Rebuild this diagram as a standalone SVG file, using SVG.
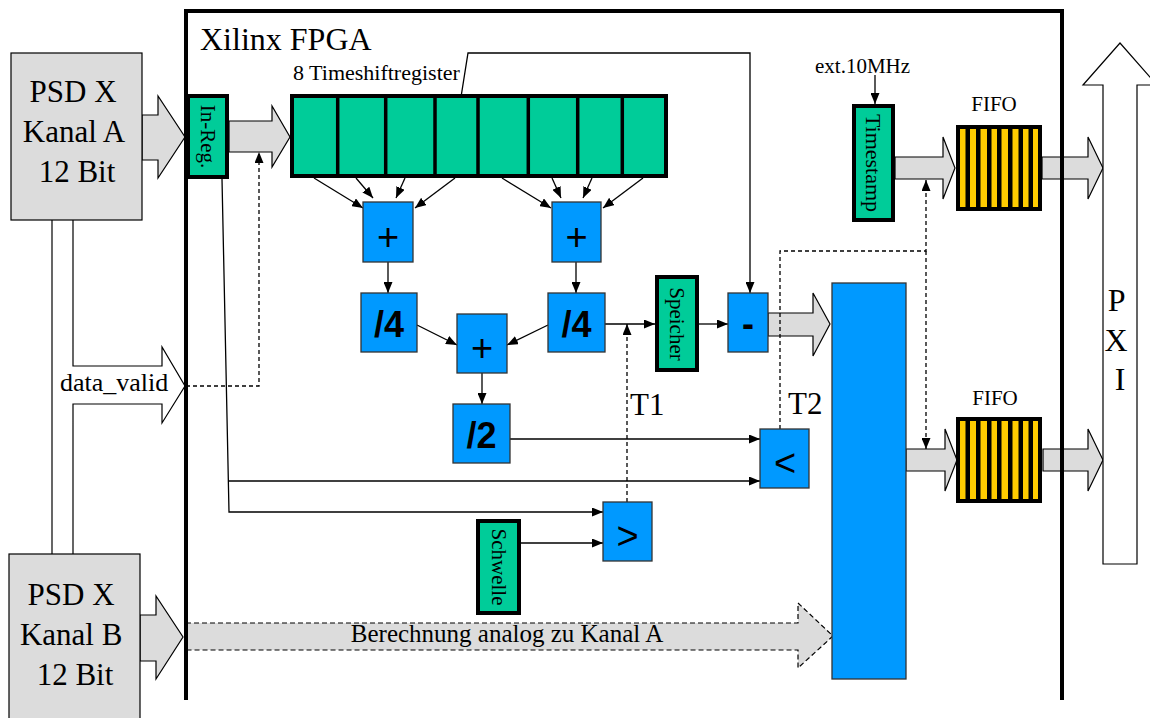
<svg xmlns="http://www.w3.org/2000/svg" width="1150" height="718" viewBox="0 0 1150 718">
  <style>
    .serif { font-family: "Liberation Serif", "Times New Roman", serif; fill: #000; }
    .sans { font-family: "Liberation Sans", Arial, sans-serif; fill: #000; }
    .bus { fill: #dcdcdc; stroke: #000; stroke-width: 1.2; stroke-linejoin: miter; }
    .outline { fill: none; stroke: #000; stroke-width: 1.2; }
    .wire { fill: none; stroke: #000; stroke-width: 1.3; }
    .dash { fill: none; stroke: #000; stroke-width: 1.3; stroke-dasharray: 4 3; }
    .src { fill: #dcdcdc; stroke: #000; stroke-width: 1.2; }
    .op { fill: #0099ff; stroke: #333; stroke-width: 1.3; }
    .reg { fill: #00cc99; stroke: #000; stroke-width: 4; }
    .fifo { fill: #ffcc00; stroke: #000; stroke-width: 4; }
    .bar { fill: #000; }
  </style>
  <defs>
    <marker id="head" viewBox="0 0 11 9" refX="11" refY="4.5" markerWidth="11" markerHeight="9" markerUnits="userSpaceOnUse" orient="auto">
      <path d="M0,0 L11,4.5 L0,9 z" fill="#000"/>
    </marker>
    <g id="stripes">
      <rect class="bar" x="965.5" width="4.5" height="82"/>
      <rect class="bar" x="976" width="4.5" height="82"/>
      <rect class="bar" x="987" width="4.5" height="82"/>
      <rect class="bar" x="997" width="4.5" height="82"/>
      <rect class="bar" x="1008" width="4.5" height="82"/>
      <rect class="bar" x="1018.5" width="4.5" height="82"/>
      <rect class="bar" x="1028.5" width="4.5" height="82"/>
    </g>
  </defs>

  <rect width="1150" height="718" fill="#fff"/>

  <g id="connectors">
    <!-- wide bus arrows -->
    <g id="buses">
      <path class="bus" d="M142,115 H158 V96 L185,137 L158,178 V160 H142 Z"/>
      <path class="bus" d="M140,615 H156 V596 L183,637 L156,679 V661 H140 Z"/>
      <path class="bus" d="M229,121 H272 V106 L290,137 L272,167 V152 H229 Z"/>
      <path class="bus" d="M768,313 H813 V293 L830,324 L813,356 V336 H768 Z"/>
      <path class="bus" d="M895,157 H943 V137 L955,168 L943,199 V179 H895 Z"/>
      <path class="bus" d="M1042,157 H1088 V137 L1103,168 L1088,199 V179 H1042 Z"/>
      <path class="bus" d="M906,449 H945 V429 L957,460 L945,491 V471 H906 Z"/>
      <path class="bus" d="M1043,449 H1088 V429 L1103,460 L1088,491 V471 H1043 Z"/>
      <path class="bus" d="M186,623 H798 V603 L833,636 L798,668 V650 H186 Z" stroke-dasharray="5 3"/>
      <!-- data_valid branch between the two channels -->
      <path class="outline" d="M52,220 V554"/>
      <path class="outline" d="M73,220 V366 H162 V347 L185,386 L162,423 V404 H73 V554"/>
      <!-- PXI bus -->
      <path d="M1103,564 V85 H1083 L1120,43 L1157,85 H1137 V564 Z" fill="#fff" stroke="#000" stroke-width="1.2"/>
    </g>

    <!-- signal wires -->
    <g id="wires">
      <path class="wire" d="M314,178 L363,208" marker-end="url(#head)"/>
      <path class="wire" d="M356,178 L373,198" marker-end="url(#head)"/>
      <path class="wire" d="M405,178 L396,198" marker-end="url(#head)"/>
      <path class="wire" d="M455,178 L415,208" marker-end="url(#head)"/>
      <path class="wire" d="M502,178 L551,208" marker-end="url(#head)"/>
      <path class="wire" d="M552,178 L561,198" marker-end="url(#head)"/>
      <path class="wire" d="M592,178 L583,198" marker-end="url(#head)"/>
      <path class="wire" d="M643,178 L603,208" marker-end="url(#head)"/>

      <path class="wire" d="M388,262 V293" marker-end="url(#head)"/>
      <path class="wire" d="M576,262 V293" marker-end="url(#head)"/>
      <path class="wire" d="M417,325 L457,345" marker-end="url(#head)"/>
      <path class="wire" d="M548,325 L507,345" marker-end="url(#head)"/>
      <path class="wire" d="M482,373 V404" marker-end="url(#head)"/>
      <path class="wire" d="M510,439 H760" marker-end="url(#head)"/>

      <path class="wire" d="M605,324 H655" marker-end="url(#head)"/>
      <path class="wire" d="M699,324 H728" marker-end="url(#head)"/>
      <path class="wire" d="M458,116 L468,53 H750 V293" marker-end="url(#head)"/>

      <path class="wire" d="M222,179 L229,512 H603" marker-end="url(#head)"/>
      <path class="wire" d="M228,481 H760" marker-end="url(#head)"/>
      <path class="wire" d="M521,543 H603" marker-end="url(#head)"/>
      <path class="wire" d="M875,75 V104" marker-end="url(#head)"/>

      <!-- trigger and data-valid strobes -->
      <path class="dash" d="M186,386 H259 V152" marker-end="url(#head)"/>
      <path class="dash" d="M627,502 V324" marker-end="url(#head)"/>
      <path class="dash" d="M780,429 V251 H926 V180" marker-end="url(#head)"/>
      <path class="dash" d="M926,251 V449" marker-end="url(#head)"/>
    </g>
  </g>

  <!-- FPGA boundary -->
  <path id="fpga" d="M186,700 V11 H1062 V700" fill="none" stroke="#000" stroke-width="4"/>
  <text class="serif" x="200" y="50" font-size="32">Xilinx FPGA</text>

  <g id="psd-a">
    <rect class="src" x="11" y="53" width="131" height="167"/>
    <text class="serif" font-size="31" text-anchor="middle">
      <tspan x="77" y="102">PSD X</tspan>
      <tspan x="77" y="142">Kanal A</tspan>
      <tspan x="77" y="182">12 Bit</tspan>
    </text>
  </g>

  <g id="psd-b">
    <rect class="src" x="9" y="554" width="131" height="180"/>
    <text class="serif" font-size="31" text-anchor="middle">
      <tspan x="75" y="605">PSD X</tspan>
      <tspan x="75" y="645">Kanal B</tspan>
      <tspan x="75" y="685">12 Bit</tspan>
    </text>
  </g>

  <text class="serif" x="60" y="391" font-size="26">data_valid</text>

  <g id="in-reg">
    <rect class="reg" x="188" y="96" width="39" height="81"/>
    <text class="serif" font-size="21" text-anchor="middle" dominant-baseline="central" transform="translate(207.5,136.5) rotate(90)">In-Reg.</text>
  </g>

  <g id="shift-register">
    <rect class="reg" x="292" y="96" width="374" height="80"/>
    <path d="M337.7,96 V176 M385.7,96 V176 M435,96 V176 M478,96 V176 M528.3,96 V176 M577.7,96 V176 M622.3,96 V176" stroke="#000" stroke-width="3.5"/>
    <text class="serif" x="293" y="80" font-size="22">8 Timeshiftregister</text>
  </g>

  <g id="add-1">
    <rect class="op" x="363" y="202" width="50" height="60"/>
    <text class="sans" x="388" y="250" font-size="38" text-anchor="middle">+</text>
  </g>
  <g id="add-2">
    <rect class="op" x="552" y="202" width="49" height="60"/>
    <text class="sans" x="576.5" y="250" font-size="38" text-anchor="middle">+</text>
  </g>
  <g id="div4-1">
    <rect class="op" x="361" y="293" width="56" height="59"/>
    <text class="sans" x="389" y="337" font-size="36" font-weight="bold" text-anchor="middle">/4</text>
  </g>
  <g id="div4-2">
    <rect class="op" x="548" y="293" width="57" height="59"/>
    <text class="sans" x="576.5" y="337" font-size="36" font-weight="bold" text-anchor="middle">/4</text>
  </g>
  <g id="add-3">
    <rect class="op" x="457" y="314" width="50" height="59"/>
    <text class="sans" x="482" y="361" font-size="38" text-anchor="middle">+</text>
  </g>
  <g id="div2">
    <rect class="op" x="453" y="404" width="57" height="59"/>
    <text class="sans" x="481.5" y="448" font-size="36" font-weight="bold" text-anchor="middle">/2</text>
  </g>

  <g id="speicher">
    <rect class="reg" x="657" y="277" width="40" height="93"/>
    <text class="serif" font-size="21" text-anchor="middle" dominant-baseline="central" transform="translate(677,324) rotate(90)">Speicher</text>
  </g>

  <g id="sub">
    <rect class="op" x="728" y="293" width="40" height="59"/>
    <text class="sans" x="748" y="336" font-size="36" font-weight="bold" text-anchor="middle">-</text>
  </g>

  <g id="cmp-lt">
    <rect class="op" x="760" y="429" width="49" height="59"/>
    <text class="sans" x="785" y="476" font-size="38" text-anchor="middle">&lt;</text>
  </g>

  <g id="cmp-gt">
    <rect class="op" x="603" y="502" width="49" height="59"/>
    <text class="sans" x="627.5" y="549" font-size="38" text-anchor="middle">&gt;</text>
  </g>

  <g id="schwelle">
    <rect class="reg" x="478" y="521" width="41" height="92"/>
    <text class="serif" font-size="21" text-anchor="middle" dominant-baseline="central" transform="translate(498.5,567) rotate(90)">Schwelle</text>
  </g>

  <g id="event-logic">
    <rect class="op" x="832" y="283" width="74" height="396"/>
  </g>

  <g id="timestamp">
    <rect class="reg" x="854" y="106" width="39" height="114"/>
    <text class="serif" font-size="22" text-anchor="middle" dominant-baseline="central" transform="translate(873.5,163) rotate(90)">Timestamp</text>
    <text class="serif" x="815" y="73" font-size="21">ext.10MHz</text>
  </g>

  <g id="fifo-1">
    <rect class="fifo" x="958" y="127" width="82" height="82"/>
    <use href="#stripes" y="127"/>
    <text class="serif" x="994" y="111" font-size="21" text-anchor="middle">FIFO</text>
  </g>

  <g id="fifo-2">
    <rect class="fifo" x="958" y="419" width="82" height="82"/>
    <use href="#stripes" y="419"/>
    <text class="serif" x="995" y="405" font-size="21" text-anchor="middle">FIFO</text>
  </g>

  <g id="pxi-label">
    <text class="serif" font-size="32" text-anchor="middle">
      <tspan x="1120" y="311">P</tspan>
      <tspan x="1120" y="351">X</tspan>
      <tspan x="1120" y="390">I</tspan>
    </text>
  </g>

  <g id="labels">
    <text class="serif" x="630" y="415" font-size="31">T1</text>
    <text class="serif" x="788" y="414" font-size="31">T2</text>
    <text class="serif" x="507" y="642" font-size="25" text-anchor="middle">Berechnung analog zu Kanal A</text>
  </g>
</svg>
